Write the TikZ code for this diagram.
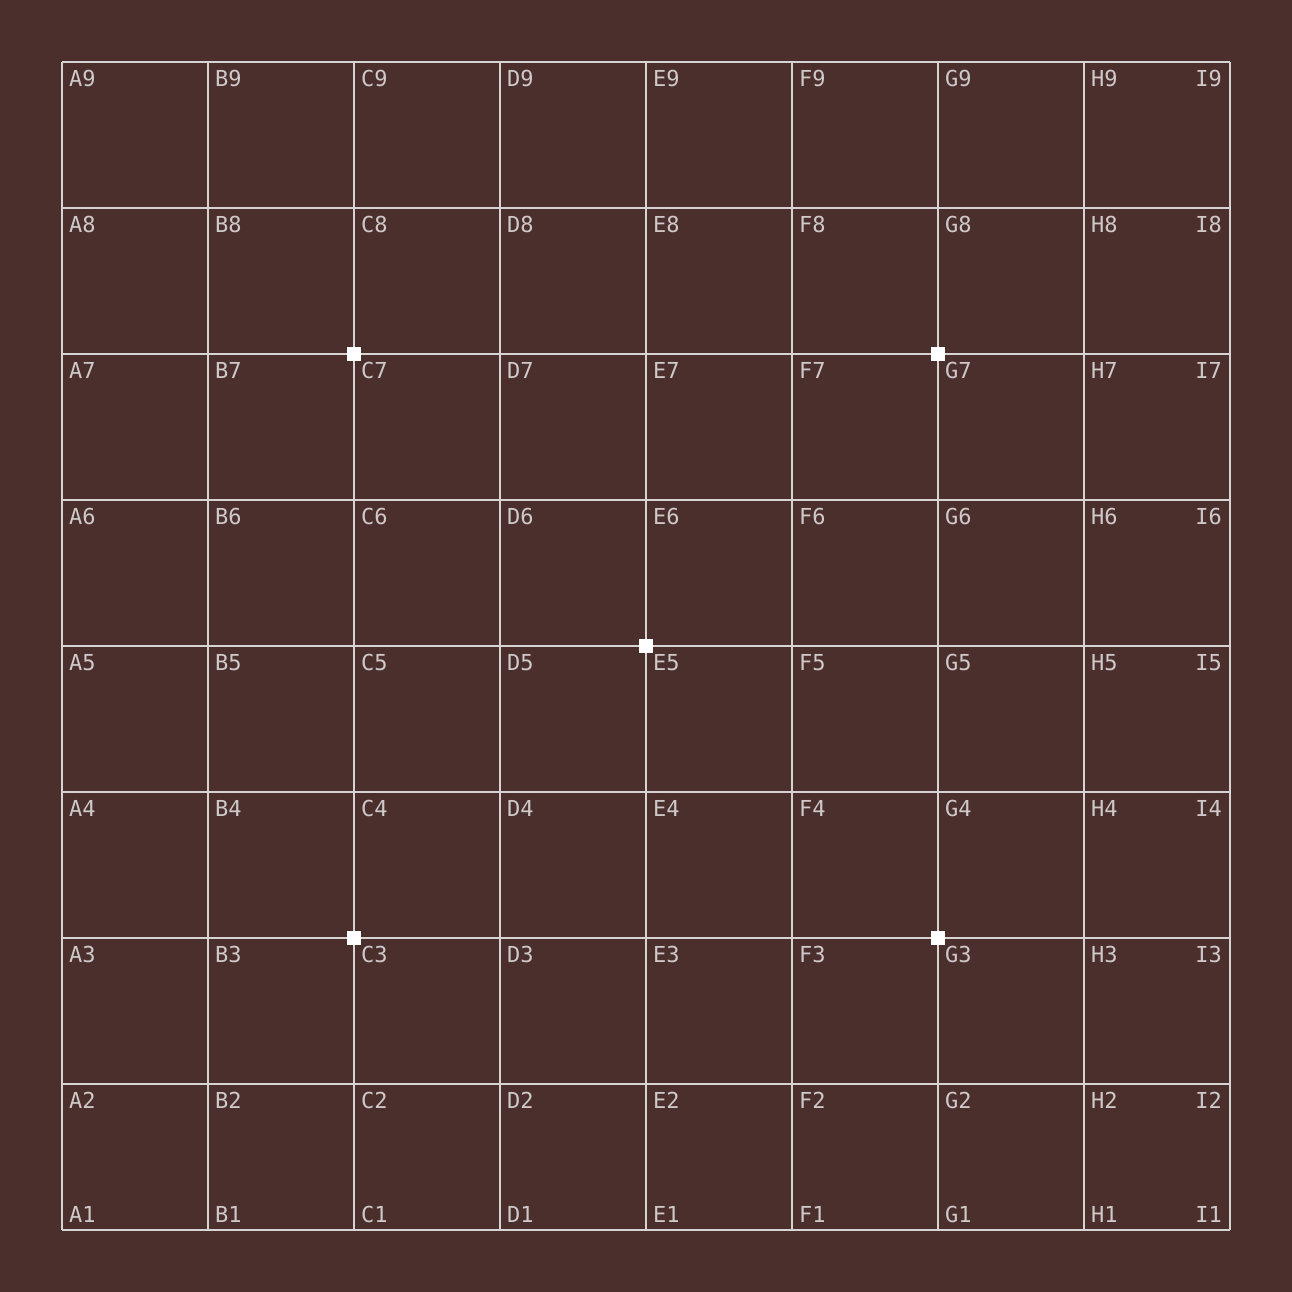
\documentclass[tikz,border=0pt]{standalone}
\usepackage{fontspec}
\setmonofont{DejaVu Sans Mono}
\definecolor{bg}{HTML}{4A2F2D}
\definecolor{ln}{HTML}{D8D3D3}
\definecolor{tx}{HTML}{CFC9C9}
\begin{document}
\begin{tikzpicture}[x=1pt,y=1pt,
  gridline/.style={draw=ln,line width=2pt},
  lbl/.style={text=tx,font=\ttfamily\fontsize{22}{22}\selectfont,inner sep=0pt},
  hoshi/.style={fill=white,minimum size=14pt,inner sep=0pt}]
\fill[bg] (0,0) rectangle (1292,1292);
\useasboundingbox (0,0) rectangle (1292,1292);
\foreach \i in {0,...,8}{
  \draw[gridline] ({62+146*\i},62) -- ({62+146*\i},1230);
  \draw[gridline] (62,{62+146*\i}) -- (1230,{62+146*\i});
}
\foreach \L [count=\i from 0] in {A,B,C,D,E,F,G,H,I}{
  \foreach \j in {1,...,9}{
    \pgfmathsetmacro{\px}{62+146*\i}
    \pgfmathsetmacro{\py}{62+146*(\j-1)}
    \ifnum\j=1
      \pgfmathsetmacro{\ly}{\py+7}
    \else
      \pgfmathsetmacro{\ly}{\py-25}
    \fi
    \ifnum\i=8
      \node[lbl,anchor=base east] (l\L\j) at ({\px-8},\ly) {\L\j};
    \else
      \node[lbl,anchor=base west] (l\L\j) at ({\px+7},\ly) {\L\j};
    \fi
  }
}
\node[hoshi] (hC7) at (354,938) {};
\node[hoshi] (hG7) at (938,938) {};
\node[hoshi] (hE5) at (646,646) {};
\node[hoshi] (hC3) at (354,354) {};
\node[hoshi] (hG3) at (938,354) {};
\end{tikzpicture}
\end{document}
